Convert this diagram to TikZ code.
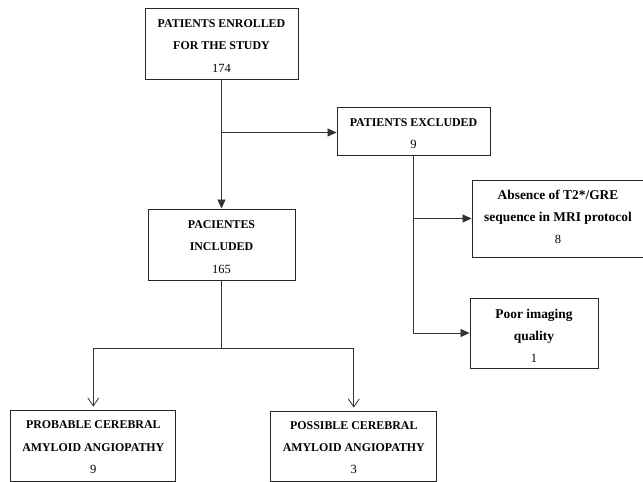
\documentclass[tikz,border=0pt]{standalone}
\usepackage{fontspec}
\setmainfont{Liberation Serif}
\usetikzlibrary{arrows.meta}
\tikzset{
  box/.style={draw=black!85, line width=0.9pt, align=center, inner sep=0pt,
    font=\bfseries\fontsize{11.9}{22.4}\selectfont},
  lbox/.style={box, font=\bfseries\fontsize{13.4}{22.2}\selectfont},
  link/.style={draw=black!80, line width=0.8pt},
  arr/.style={link, -{Triangle[length=9pt,width=8pt]}},
  oarr/.style={link, -{Straight Barb[length=8pt,width=11pt,line width=0.8pt]}, shorten >=3pt},
}
\newcommand{\num}[1]{{\mdseries\fontsize{12.5}{22.4}\selectfont #1}}
\newcommand{\hup}[1]{\rule{0pt}{#1}}
\newcommand{\dn}[1]{\rule[-#1]{0pt}{#1}}
\begin{document}
\begin{tikzpicture}[x=1pt,y=-1pt]
\clip (0,0) rectangle (643,482);
\fill[white] (0,0) rectangle (643,482);

\node[box, minimum width=153pt, minimum height=71pt] (top) at (221.5,43.5)
  {\hup{12.5pt}PATIENTS ENROLLED\\FOR THE STUDY\\\num{174}};
\node[box, minimum width=153pt, minimum height=48pt] (excl) at (413.5,131)
  {\hup{12.9pt}PATIENTS EXCLUDED\\\num{9}};
\node[lbox, minimum width=172pt, minimum height=77pt] (abs) at (558,218.5)
  {Absence of T2*/GRE\\sequence in MRI protocol\\\num{8}\dn{3pt}};
\node[lbox, minimum width=128pt, minimum height=70pt] (poor) at (534,333)
  {\hup{14.9pt}Poor imaging\\quality\\\num{1}};
\node[box, minimum width=147pt, minimum height=71pt] (inc) at (221.5,244.5)
  {\hup{12.5pt}PACIENTES\\INCLUDED\\\num{165}};
\node[box, minimum width=165pt, minimum height=71pt] (prob) at (93.3,445.5)
  {\hup{11.3pt}PROBABLE CEREBRAL\\AMYLOID ANGIOPATHY\\\num{9}};
\node[box, minimum width=166pt, minimum height=70pt] (poss) at (353.8,446)
  {\hup{11pt}POSSIBLE CEREBRAL\\AMYLOID ANGIOPATHY\\\num{3}};

\coordinate (b1) at (221.5,132.5);
\coordinate (split) at (221.5,348);

\draw[arr] (top.south) -- (inc.north);
\draw[arr] (b1) -- (b1 -| excl.west);
\draw[arr] (excl.south) |- (poor.west);
\draw[arr] (excl.south |- abs.west) -- (abs.west);
\draw[link] (inc.south) -- (split);
\draw[oarr] (split) -| (prob.north);
\draw[oarr] (split) -| (poss.north);
\end{tikzpicture}
\end{document}
